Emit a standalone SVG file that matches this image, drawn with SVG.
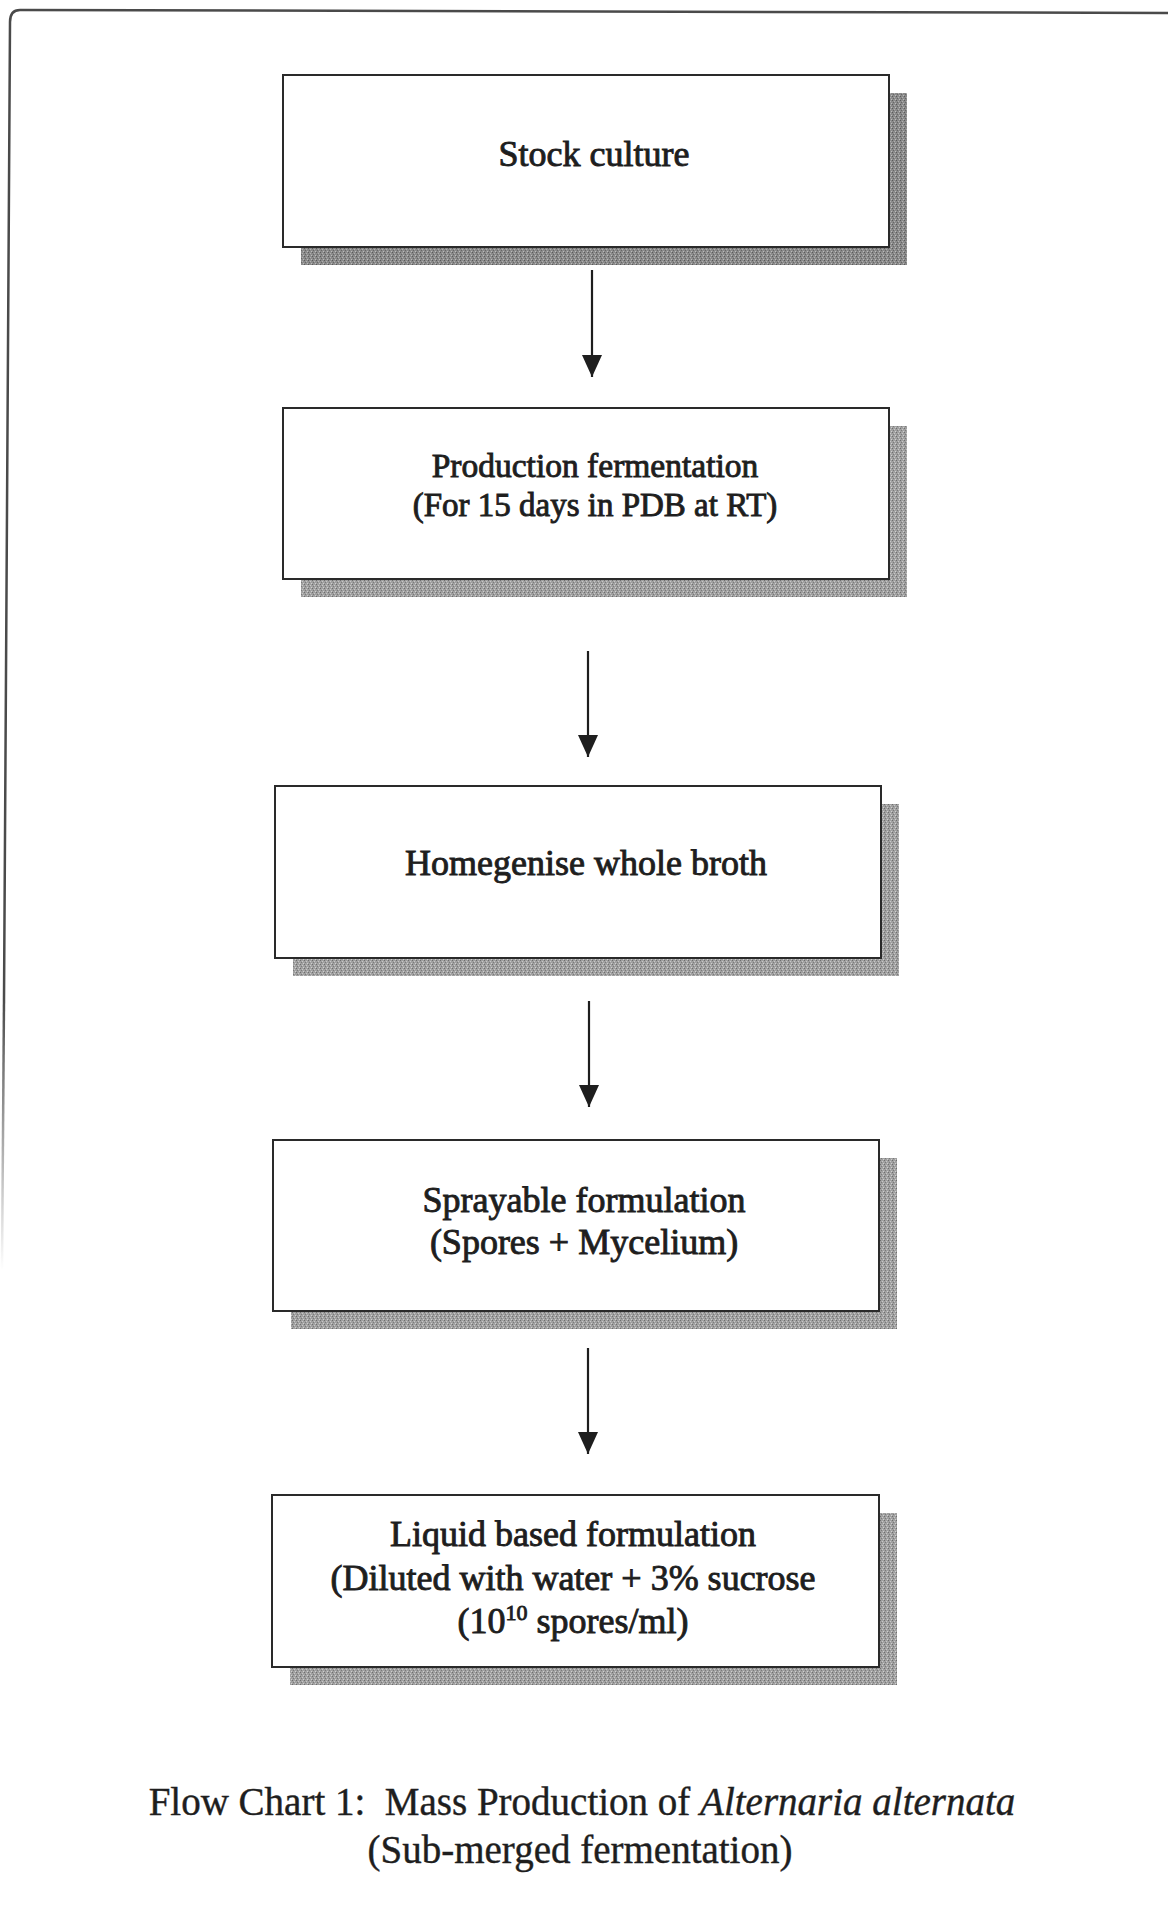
<svg xmlns="http://www.w3.org/2000/svg" width="1168" height="1907" viewBox="0 0 1168 1907">
<style>
.box{fill:#fff;stroke:#2a2a2a;stroke-width:2}
.shadow{fill:url(#stip)}
.shadow.dark{fill:url(#stipd)}
.lbl{font-family:"Liberation Serif","Times New Roman",serif;font-size:36px;fill:#1e1e1e;stroke:#1e1e1e;stroke-width:0.9;text-anchor:middle}
.cap{font-family:"Liberation Serif","Times New Roman",serif;font-size:39px;fill:#1e1e1e;stroke:#1e1e1e;stroke-width:0.4;text-anchor:middle}
.conn{stroke:#1e1e1e;stroke-width:2.2;fill:none;marker-end:url(#arr)}
.frame{stroke:#4a4a4a;stroke-width:2.5;fill:none}
</style>
<defs>
<pattern id="stip" width="4" height="4" patternUnits="userSpaceOnUse">
<rect width="4" height="4" fill="#a0a0a0"/>
<rect x="0" y="0" width="1" height="1" fill="#6e6e6e"/>
<rect x="2" y="1" width="1" height="1" fill="#c8c8c8"/>
<rect x="1" y="2" width="1" height="1" fill="#7a7a7a"/>
<rect x="3" y="3" width="1" height="1" fill="#cfcfcf"/>
</pattern>
<pattern id="stipd" width="4" height="4" patternUnits="userSpaceOnUse">
<rect width="4" height="4" fill="#8a8a8a"/>
<rect x="0" y="0" width="1" height="1" fill="#5a5a5a"/>
<rect x="2" y="1" width="1" height="1" fill="#b0b0b0"/>
<rect x="1" y="2" width="1" height="1" fill="#666"/>
<rect x="3" y="3" width="1" height="1" fill="#bbb"/>
</pattern>
<marker id="arr" viewBox="0 0 22 20" refX="22" refY="10" markerWidth="22" markerHeight="20" markerUnits="userSpaceOnUse" orient="auto">
<path d="M0,0 L22,10 L0,20 z" fill="#1e1e1e"/>
</marker>
<linearGradient id="fade" gradientUnits="userSpaceOnUse" x1="0" y1="1000" x2="0" y2="1270">
<stop offset="0" stop-color="#4a4a4a"/>
<stop offset="1" stop-color="#4a4a4a" stop-opacity="0"/>
</linearGradient>
</defs>

<g id="frame">
<path class="frame" d="M1168,13 L20,10 Q10,10 10,22 L4,1000"/>
<path d="M4,1000 L2,1270" stroke="url(#fade)" stroke-width="2.5" fill="none"/>
</g>

<g id="connectors">
<line class="conn" x1="592" y1="270" x2="592" y2="377"/>
<line class="conn" x1="588" y1="651" x2="588" y2="757"/>
<line class="conn" x1="589" y1="1001" x2="589" y2="1107"/>
<line class="conn" x1="588" y1="1348" x2="588" y2="1454"/>
</g>

<g id="node1">
<rect class="shadow dark" x="301" y="93" width="606" height="172"/>
<rect class="box" x="283" y="75" width="606" height="172"/>
<text class="lbl" x="594" y="166">Stock culture</text>
</g>

<g id="node2">
<rect class="shadow" x="301" y="426" width="606" height="171"/>
<rect class="box" x="283" y="408" width="606" height="171"/>
<text class="lbl" x="595" y="477" style="font-size:33.5px">Production fermentation</text>
<text class="lbl" x="595" y="516" style="font-size:33px">(For 15 days in PDB at RT)</text>
</g>

<g id="node3">
<rect class="shadow" x="293" y="804" width="606" height="172"/>
<rect class="box" x="275" y="786" width="606" height="172"/>
<text class="lbl" x="586" y="875">Homegenise whole broth</text>
</g>

<g id="node4">
<rect class="shadow" x="291" y="1158" width="606" height="171"/>
<rect class="box" x="273" y="1140" width="606" height="171"/>
<text class="lbl" x="584" y="1212">Sprayable formulation</text>
<text class="lbl" x="584" y="1254">(Spores + Mycelium)</text>
</g>

<g id="node5">
<rect class="shadow" x="290" y="1513" width="607" height="172"/>
<rect class="box" x="272" y="1495" width="607" height="172"/>
<text class="lbl" x="573" y="1546">Liquid based formulation</text>
<text class="lbl" x="573" y="1590">(Diluted with water + 3% sucrose</text>
<text class="lbl" x="573" y="1633">(10<tspan dy="-13" style="font-size:22px">10</tspan><tspan dy="13"> spores/ml)</tspan></text>
</g>

<g id="caption">
<text class="cap" x="582" y="1815">Flow Chart 1:&#160; Mass Production of <tspan font-style="italic">Alternaria alternata</tspan></text>
<text class="cap" x="580" y="1863">(Sub-merged fermentation)</text>
</g>
</svg>
